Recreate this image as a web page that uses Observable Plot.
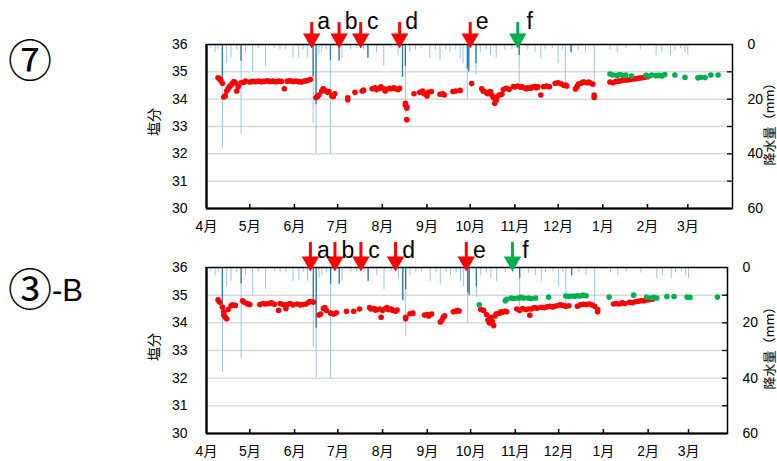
<!DOCTYPE html>
<html><head><meta charset="utf-8">
<script src="https://cdn.jsdelivr.net/npm/d3@7"></script>
<script src="https://cdn.jsdelivr.net/npm/@observablehq/plot@0.6"></script>
<style>
body{margin:0;background:#fff;}
#wrap{position:relative;width:777px;height:461px;font-family:"Liberation Sans","Noto Sans CJK JP",sans-serif;}
.panel{position:absolute;left:0;}
.lab{position:absolute;white-space:nowrap;color:#000;}
.rot{transform:translate(-50%,-50%) rotate(-90deg);font-family:"Noto Sans CJK JP",sans-serif;font-size:13px;line-height:1;}
</style></head>
<body>
<div id="wrap"></div>
<script>
// ---- data ----
const panelNames = ["⑦", "③-B"];
const monthTicks = ["2020-04-01","2020-05-01","2020-06-01","2020-07-01","2020-08-01","2020-09-01","2020-10-01","2020-11-01","2020-12-01","2021-01-01","2021-02-01","2021-03-01"];
const salTicks = [30,31,32,33,34,35,36];
const rainTicks = [0,20,40,60];

// rainfall (mm), light lines
const rainLight = [
 ["2020-04-04",1.5],["2020-04-07",3],["2020-04-09",2],["2020-04-12",38],["2020-04-15",7],["2020-04-18",5],["2020-04-22",2],["2020-04-25",33],["2020-04-28",3],
 ["2020-05-03",10],["2020-05-07",1.5],["2020-05-12",8],["2020-05-18",1.5],["2020-05-22",2],["2020-05-26",2],["2020-05-31",5],
 ["2020-06-04",5],["2020-06-07",2],["2020-06-10",5],["2020-06-14",29],["2020-06-16",40],["2020-06-18",4],["2020-06-20",3],["2020-06-23",2],["2020-06-26",40],
 ["2020-07-02",6],["2020-07-04",5],["2020-07-10",2],["2020-07-14",1.5],["2020-07-19",2],["2020-07-22",5],["2020-07-28",3],
 ["2020-08-02",8],["2020-08-07",1.5],["2020-08-12",4],["2020-08-15",12],["2020-08-17",25],["2020-08-20",3],["2020-08-24",2],["2020-08-28",1.5],
 ["2020-09-03",5],["2020-09-07",2],["2020-09-10",6],["2020-09-14",2],["2020-09-17",3],["2020-09-21",2],["2020-09-24",5],["2020-09-26",7],["2020-09-29",20],["2020-09-30",10],
 ["2020-10-05",11],["2020-10-08",3],["2020-10-12",2],["2020-10-15",4],["2020-10-19",5],["2020-10-25",2],["2020-10-30",2],
 ["2020-11-04",14],["2020-11-10",2],["2020-11-15",3],["2020-11-19",5],["2020-11-22",2],["2020-11-27",1.5],
 ["2020-12-01",7],["2020-12-04",2],["2020-12-06",14],["2020-12-10",3],["2020-12-15",2],["2020-12-20",3],["2020-12-26",14],
 ["2021-01-06",2],["2021-01-11",3],["2021-01-17",1.5],["2021-01-27",2],
 ["2021-02-07",4],["2021-02-11",3],["2021-02-17",4],["2021-02-20",2],["2021-02-24",1.5],["2021-02-27",3],["2021-03-01",4]
];
// rainfall (mm), darker cores
const rainDark = [
 ["2020-04-12",15],["2020-04-25",6],["2020-06-14",12],["2020-06-16",22],["2020-06-26",6],["2020-07-02",6],["2020-07-22",5],
 ["2020-08-15",12],["2020-08-17",8],["2020-09-29",9],["2020-09-30",10],["2020-10-05",7],["2020-11-04",4],["2020-12-10",3]
];

// salinity ⑦
const sal7Red = [
 ["2020-04-09",34.78],["2020-04-10",34.75],["2020-04-11",34.68],["2020-04-12",34.58],["2020-04-13",34.08],["2020-04-14",34.12],["2020-04-15",34.3],["2020-04-16",34.38],["2020-04-17",34.45],["2020-04-18",34.52],["2020-04-19",34.58],["2020-04-20",34.64],["2020-04-21",34.6],["2020-04-22",34.3],["2020-04-23",34.45],["2020-04-25",34.6],["2020-04-27",34.62],["2020-04-28",34.66],
 ["2020-05-01",34.63],["2020-05-03",34.65],["2020-05-05",34.64],["2020-05-07",34.66],["2020-05-09",34.64],["2020-05-11",34.65],["2020-05-13",34.67],["2020-05-15",34.65],["2020-05-17",34.66],["2020-05-19",34.64],["2020-05-21",34.66],["2020-05-23",34.65],["2020-05-25",34.38],["2020-05-27",34.66],["2020-05-29",34.67],["2020-05-31",34.65],
 ["2020-06-02",34.66],["2020-06-04",34.64],["2020-06-06",34.63],["2020-06-08",34.66],["2020-06-10",34.68],["2020-06-12",34.72],
 ["2020-06-16",34.06],["2020-06-17",34.1],["2020-06-18",34.15],["2020-06-20",34.3],["2020-06-21",34.38],["2020-06-22",34.32],["2020-06-24",34.25],["2020-06-25",34.28],["2020-06-27",34.12],["2020-06-28",34.1],["2020-06-29",34.2],
 ["2020-07-08",34.05],["2020-07-08",33.98],["2020-07-13",34.25],["2020-07-18",34.3],["2020-07-19",34.33],
 ["2020-07-25",34.38],["2020-07-27",34.42],["2020-07-28",34.35],["2020-07-30",34.4],["2020-07-31",34.45],["2020-08-02",34.38],["2020-08-03",34.3],["2020-08-04",34.35],["2020-08-06",34.4],["2020-08-07",34.38],["2020-08-09",34.42],["2020-08-10",34.38],["2020-08-12",34.35],["2020-08-13",34.4],
 ["2020-08-17",33.85],["2020-08-17",33.78],["2020-08-18",33.72],["2020-08-18",33.68],["2020-08-18",33.25],
 ["2020-08-23",34.2],["2020-08-27",34.25],["2020-08-29",34.3],["2020-08-30",34.2],["2020-09-01",34.12],["2020-09-02",34.25],["2020-09-04",34.28],
 ["2020-09-10",34.18],["2020-09-12",34.2],["2020-09-13",34.15],["2020-09-19",34.28],["2020-09-21",34.3],["2020-09-24",34.32],
 ["2020-10-02",34.57],
 ["2020-10-09",34.38],["2020-10-10",34.3],["2020-10-12",34.25],["2020-10-13",34.2],["2020-10-15",34.28],["2020-10-16",34.15],["2020-10-17",34.06],["2020-10-18",33.85],["2020-10-19",33.95],["2020-10-20",34.1],["2020-10-21",34.15],["2020-10-23",34.18],["2020-10-24",34.35],["2020-10-26",34.4],["2020-10-28",34.36],
 ["2020-10-31",34.46],["2020-11-01",34.45],["2020-11-03",34.48],["2020-11-05",34.44],["2020-11-06",34.45],["2020-11-08",34.4],["2020-11-09",34.38],["2020-11-10",34.42],["2020-11-12",34.4],["2020-11-13",34.44],["2020-11-15",34.46],["2020-11-16",34.42],["2020-11-17",34.45],["2020-11-19",34.15],["2020-11-21",34.46],["2020-11-23",34.48],["2020-11-25",34.45],
 ["2020-11-29",34.58],["2020-12-01",34.6],["2020-12-03",34.56],["2020-12-05",34.5],["2020-12-06",34.52],["2020-12-07",34.48],
 ["2020-12-13",34.37],["2020-12-14",34.45],["2020-12-15",34.55],["2020-12-17",34.58],["2020-12-18",34.62],["2020-12-19",34.63],["2020-12-21",34.6],["2020-12-22",34.63],["2020-12-23",34.6],["2020-12-25",34.55],["2020-12-26",34.06],["2020-12-26",34.15],
 ["2021-01-06",34.63],["2021-01-08",34.6],["2021-01-10",34.65],["2021-01-12",34.66],["2021-01-14",34.68],["2021-01-16",34.7],["2021-01-18",34.7],["2021-01-20",34.72],["2021-01-22",34.74],["2021-01-24",34.75],["2021-01-26",34.77],["2021-01-28",34.78],["2021-01-30",34.8],["2021-02-01",34.82]
];
const sal7Green = [
 ["2021-01-06",34.92],["2021-01-08",34.88],["2021-01-11",34.87],["2021-01-13",34.9],["2021-01-15",34.86],["2021-01-17",34.88],["2021-01-21",34.85],["2021-01-31",34.87],["2021-02-02",34.85],["2021-02-04",34.88],["2021-02-07",34.86],["2021-02-09",34.87],["2021-02-11",34.85],["2021-02-13",34.9],["2021-02-20",34.88],["2021-02-27",34.8],["2021-03-08",34.78],["2021-03-10",34.8],["2021-03-13",34.79],["2021-03-17",34.88],["2021-03-22",34.88]
];
// salinity ③-B
const sal3Red = [
 ["2020-04-09",34.83],["2020-04-10",34.75],["2020-04-12",34.57],["2020-04-13",34.4],["2020-04-13",34.28],["2020-04-14",34.2],["2020-04-15",34.15],["2020-04-16",34.48],["2020-04-18",34.62],["2020-04-19",34.65],["2020-04-21",34.63],
 ["2020-04-26",34.8],["2020-04-27",34.75],["2020-04-29",34.7],["2020-04-30",34.68],["2020-05-01",34.66],
 ["2020-05-08",34.66],["2020-05-10",34.7],["2020-05-12",34.68],["2020-05-14",34.7],["2020-05-16",34.72],["2020-05-18",34.67],["2020-05-21",34.45],["2020-05-22",34.7],["2020-05-24",34.66],["2020-05-26",34.52],["2020-05-27",34.66],["2020-05-29",34.7],["2020-05-31",34.65],["2020-06-03",34.68],["2020-06-05",34.65],["2020-06-07",34.66],["2020-06-09",34.68],["2020-06-11",34.75],["2020-06-12",34.77],["2020-06-14",34.75],
 ["2020-06-18",34.28],["2020-06-19",34.32],["2020-06-21",34.52],["2020-06-22",34.55],["2020-06-23",34.45],["2020-06-26",34.35],["2020-06-28",34.32],["2020-06-30",34.36],
 ["2020-07-07",34.42],["2020-07-12",34.42],["2020-07-16",34.5],
 ["2020-07-23",34.55],["2020-07-24",34.5],["2020-07-26",34.52],["2020-07-27",34.46],["2020-07-28",34.48],["2020-07-30",34.5],["2020-07-31",34.2],["2020-08-01",34.45],["2020-08-03",34.52],["2020-08-04",34.55],["2020-08-05",34.48],["2020-08-07",34.5],["2020-08-08",34.45],["2020-08-10",34.42],["2020-08-11",34.46],
 ["2020-08-17",34.2],["2020-08-17",34.15],["2020-08-20",34.33],["2020-08-22",34.35],
 ["2020-08-30",34.28],["2020-09-01",34.3],["2020-09-02",34.25],["2020-09-04",34.32],
 ["2020-09-10",34.03],["2020-09-11",34.08],["2020-09-12",34.2],["2020-09-13",34.25],
 ["2020-09-19",34.4],["2020-09-21",34.43],["2020-09-22",34.45],["2020-09-23",34.43],
 ["2020-10-08",34.48],["2020-10-10",34.45],["2020-10-12",34.3],["2020-10-13",34.1],["2020-10-14",34.0],["2020-10-15",34.2],["2020-10-16",34.05],["2020-10-17",33.9],["2020-10-18",34.25],["2020-10-19",34.33],["2020-10-21",34.35],["2020-10-22",34.4],["2020-10-23",34.38],["2020-10-25",34.42],["2020-10-26",34.4],
 ["2020-11-02",34.5],["2020-11-04",34.45],["2020-11-06",34.52],["2020-11-08",34.48],["2020-11-10",34.5],["2020-11-11",34.27],["2020-11-12",34.5],["2020-11-14",34.55],["2020-11-16",34.53],["2020-11-19",34.56],["2020-11-21",34.55],["2020-11-23",34.58],["2020-11-25",34.6],["2020-11-27",34.57],["2020-11-28",34.6],
 ["2020-11-30",34.62],["2020-12-02",34.65],["2020-12-04",34.63],["2020-12-06",34.6],["2020-12-08",34.62],
 ["2020-12-14",34.6],["2020-12-16",34.65],["2020-12-18",34.67],["2020-12-20",34.66],["2020-12-22",34.68],["2020-12-24",34.65],["2020-12-26",34.6],["2020-12-28",34.48],["2020-12-28",34.4],
 ["2021-01-08",34.68],["2021-01-10",34.7],["2021-01-12",34.68],["2021-01-14",34.72],["2021-01-16",34.7],["2021-01-19",34.74],["2021-01-21",34.73],["2021-01-23",34.76],["2021-01-25",34.78],["2021-01-27",34.8],["2021-01-29",34.8],["2021-01-31",34.83],["2021-02-02",34.84],["2021-02-04",34.85]
];
const sal3Green = [
 ["2020-10-07",34.65],["2020-10-25",34.8],["2020-10-26",34.85],["2020-10-29",34.9],["2020-10-31",34.88],["2020-11-03",34.9],["2020-11-05",34.92],["2020-11-07",34.9],["2020-11-10",34.9],["2020-11-12",34.88],["2020-11-15",34.9],["2020-11-24",34.93],
 ["2020-12-06",34.97],["2020-12-08",34.95],["2020-12-10",34.97],["2020-12-12",34.96],["2020-12-14",34.98],["2020-12-16",34.97],["2020-12-18",35.0],["2020-12-20",34.98],
 ["2021-01-05",34.93],["2021-01-22",35.0],["2021-01-31",34.93],["2021-02-03",34.9],["2021-02-05",34.92],["2021-02-07",34.9],["2021-02-14",34.95],["2021-02-19",34.95],["2021-02-28",34.93],["2021-03-02",34.92],["2021-03-21",34.93]
];
// event arrows
const arrowLabels = ["a","b","c","d","e","f"];
const arrowColors = ["#ff0000","#ff0000","#ff0000","#ff0000","#ff0000","#00b050"];
const arrows7 = ["2020-06-13","2020-07-02","2020-07-17","2020-08-13","2020-10-01","2020-11-03"];
const arrows3 = ["2020-06-12","2020-06-29","2020-07-17","2020-08-10","2020-09-28","2020-10-30"];

// ---- build ----
const P = s => new Date(s + "T00:00:00Z");
const toPts = arr => arr.map(([d, v]) => ({date: P(d), v}));
const months = monthTicks.map(P);
const rainL = toPts(rainLight), rainD = toPts(rainDark);
const mFmt = d => `${d.getUTCMonth() + 1}月`;

function panel({top, height, marginTop, marginBottom, marginRight, xEnd, red, green, arrowDates, arrowTop, labelDy, labelDx}) {
  const plotH = height - marginTop - marginBottom;
  const plotW = 777 - 206 - marginRight;
  const arr = arrowDates.map((d, i) => ({date: P(d), label: arrowLabels[i], color: arrowColors[i]}));
  const svg = Plot.plot({
    width: 777, height, marginLeft: 206, marginRight, marginTop, marginBottom,
    style: {fontFamily: '"Liberation Sans","Noto Sans CJK JP",sans-serif', fontSize: "14px", color: "#000", background: "#fff", overflow: "visible"},
    x: {type: "utc", domain: [P("2020-04-01"), P(xEnd)], label: null},
    y: {domain: [30, 36], label: null},
    marks: [
      Plot.ruleY([31, 32, 33, 34, 35], {stroke: "#d9d9d9", strokeWidth: 1.5}),
      Plot.ruleX(rainL, {x: "date", y1: 36, y2: d => 36 - d.v / 10, stroke: "#9dc3e6", strokeWidth: 1}),
      Plot.ruleX(rainD, {x: "date", y1: 36, y2: d => 36 - d.v / 10, stroke: "#2e75b6", strokeWidth: 1.3}),
      Plot.dot(toPts(red), {x: "date", y: "v", r: 2.8, fill: "#ff0000", stroke: "none"}),
      Plot.dot(toPts(green), {x: "date", y: "v", r: 2.8, fill: "#00b050", stroke: "none"}),
      Plot.ruleY([31, 32, 33, 34, 35], {insetLeft: plotW - 5, stroke: "#000", strokeWidth: 1.3}),
      Plot.ruleX(months.slice(1), {insetTop: plotH - 4, stroke: "#000", strokeWidth: 1.5}),
      Plot.frame({stroke: "#000", strokeWidth: 1.5}),
      Plot.ruleX([P("2020-04-01")], {stroke: "#000", strokeWidth: 2.2}),
      Plot.ruleY([30], {stroke: "#000", strokeWidth: 2.2}),
      Plot.axisX({ticks: months, tickSize: 0, tickPadding: 13, tickFormat: mFmt}),
      Plot.axisY({ticks: salTicks, tickSize: 0, tickPadding: 19, tickFormat: d => d}),
      Plot.axisY({anchor: "right", ticks: rainTicks.map(m => 36 - m / 10), tickSize: 0, tickPadding: 15, tickFormat: d => Math.round((36 - d) * 10)}),
      Plot.ruleX(arr, {x: "date", y1: arrowTop, y2: 36.35, stroke: "color", strokeWidth: 3}),
      Plot.dot(arr, {x: "date", y: 36, dy: -6, symbol: "triangle", rotate: 180, r: 6.5, fill: "color", stroke: "none"}),
      Plot.text(arr, {x: "date", y: 36, text: "label", dy: labelDy, dx: labelDx, fontSize: 23, fill: "#000"})
    ]
  });
  svg.classList.add("panel");
  svg.style.top = top + "px";
  return svg;
}

const wrap = document.getElementById("wrap");
wrap.appendChild(panel({top: 0, height: 236, marginTop: 44, marginBottom: 28, marginRight: 45, xEnd: "2021-04-01",
  red: sal7Red, green: sal7Green, arrowDates: arrows7, arrowTop: 36.8, labelDy: -23, labelDx: 12}));
wrap.appendChild(panel({top: 236, height: 225, marginTop: 31, marginBottom: 28, marginRight: 50, xEnd: "2021-03-28",
  red: sal3Red, green: sal3Green, arrowDates: arrows3, arrowTop: 36.9, labelDy: -17, labelDx: 13}));

// titles and panel names
function addLabel(html, x, y, cls, css) {
  const el = document.createElement("div");
  el.className = "lab " + (cls || "");
  el.innerHTML = html;
  el.style.left = x + "px"; el.style.top = y + "px";
  Object.assign(el.style, css || {});
  wrap.appendChild(el);
}
addLabel("塩分", 153, 122, "rot", {fontSize: "14px"});
addLabel("塩分", 153, 347, "rot", {fontSize: "14px"});
addLabel("降水量（mm）", 768, 121, "rot", {fontSize: "13px"});
addLabel("降水量（mm）", 768, 345, "rot", {fontSize: "13px"});
addLabel(`<span style="font-family:'Noto Sans CJK JP';font-size:44px">${panelNames[0]}</span>`, 8, 36, "", {lineHeight: "1"});
addLabel(`<span style="font-family:'Noto Sans CJK JP';font-size:44px">③</span><span style="font-family:'Liberation Sans';font-size:31px;position:relative;top:-5px">-B</span>`, 8, 265, "", {lineHeight: "1"});
</script>
</body></html>
